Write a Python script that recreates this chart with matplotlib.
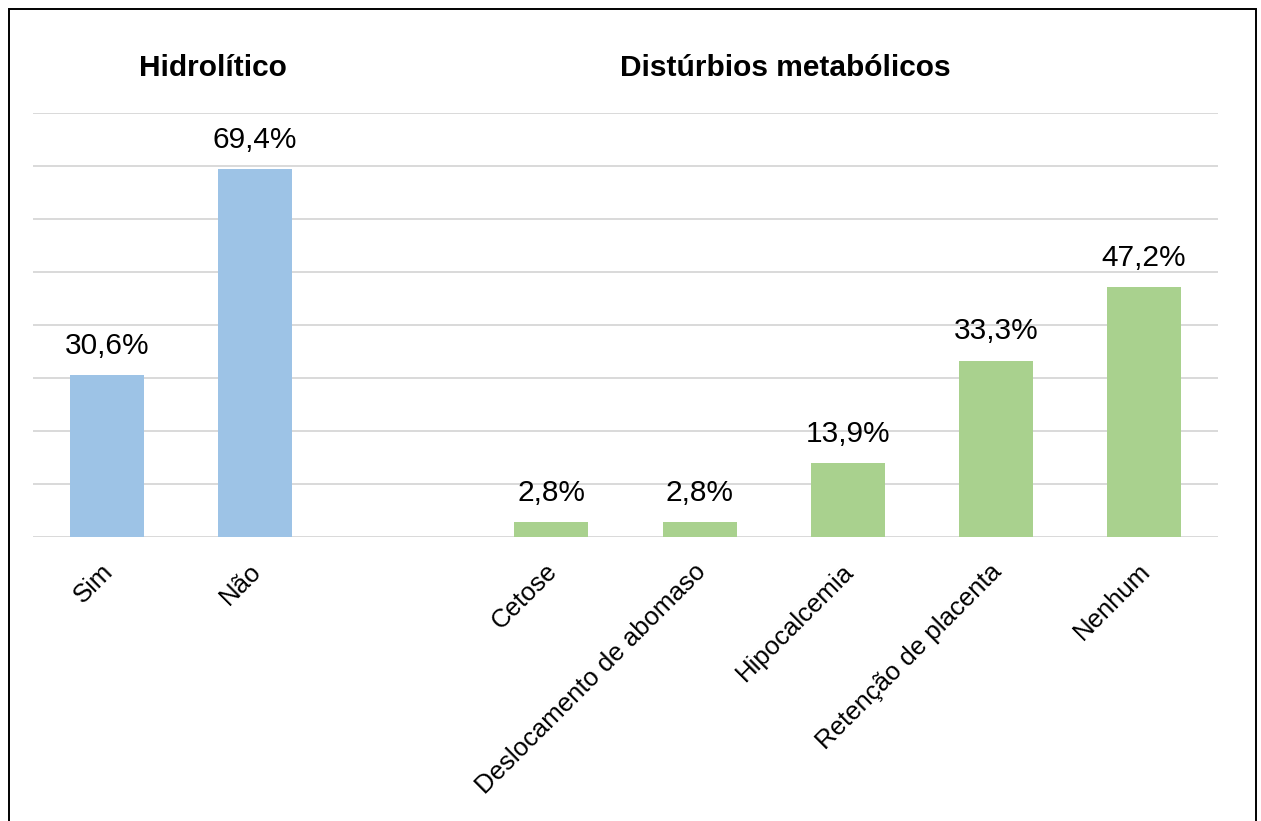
import matplotlib
matplotlib.use("Agg")
import matplotlib.pyplot as plt
from matplotlib.patches import Rectangle
from matplotlib.transforms import ScaledTranslation

plt.rcParams['font.family'] = ['Liberation Sans', 'DejaVu Sans']

# Data
hidro_categories = ["Sim", "Não"]
hidro_values = [30.6, 69.4]
metab_categories = ["Cetose", "Deslocamento de abomaso", "Hipocalcemia",
                    "Retenção de placenta", "Nenhum"]
metab_values = [2.8, 2.8, 13.9, 33.3, 47.2]
group_titles = ["Hidrolítico", "Distúrbios metabólicos"]

W, H = 1261, 821
fig = plt.figure(figsize=(W / 100, H / 100), dpi=100)
ax = fig.add_axes([33 / W, (H - 537) / H, (1218 - 33) / W, (537 - 113) / H])

hidro_x = list(range(len(hidro_categories)))
metab_x = [len(hidro_categories) + 1 + i for i in range(len(metab_categories))]

ax.bar(hidro_x, hidro_values, width=0.5, color="#9DC3E6", zorder=3)
ax.bar(metab_x, metab_values, width=0.5, color="#A9D18E", zorder=3)

for x, v in list(zip(hidro_x, hidro_values)) + list(zip(metab_x, metab_values)):
    ax.annotate(f"{v:.1f}%".replace(".", ","), (x, v), xytext=(0, 11),
                textcoords="offset points", ha="center", va="bottom",
                fontsize=21.5, color="black")

ax.set_xlim(-0.5, 7.5)
ax.set_ylim(0, 80)
ax.set_yticks(range(0, 81, 10))
ax.yaxis.grid(True, color="#d9d9d9", linewidth=1.4, zorder=0)
ax.tick_params(axis="y", left=False, labelleft=False)
ax.tick_params(axis="x", length=0, pad=16)
for s in ax.spines.values():
    s.set_visible(False)

ax.set_xticks(hidro_x + metab_x)
ax.set_xticklabels(hidro_categories + metab_categories, rotation=45,
                   ha="right", rotation_mode="anchor", fontsize=18.5)
shift = ScaledTranslation(-6 / 100, 0, fig.dpi_scale_trans)
for lbl in ax.get_xticklabels():
    lbl.set_va("top")
    lbl.set_transform(lbl.get_transform() + shift)

fig.text(213 / W, 1 - 68 / H, group_titles[0], ha="center", va="center",
         fontsize=21.5, fontweight="bold")
fig.text(785 / W, 1 - 68 / H, group_titles[1], ha="center", va="center",
         fontsize=21.5, fontweight="bold")

fig.patches.append(Rectangle((8.5 / W, -0.1), (1255.5 - 8.5) / W, 1.1 - 9.5 / H,
                             transform=fig.transFigure, fill=False,
                             edgecolor="black", linewidth=1.4))

fig.savefig("out.png", dpi=100)
